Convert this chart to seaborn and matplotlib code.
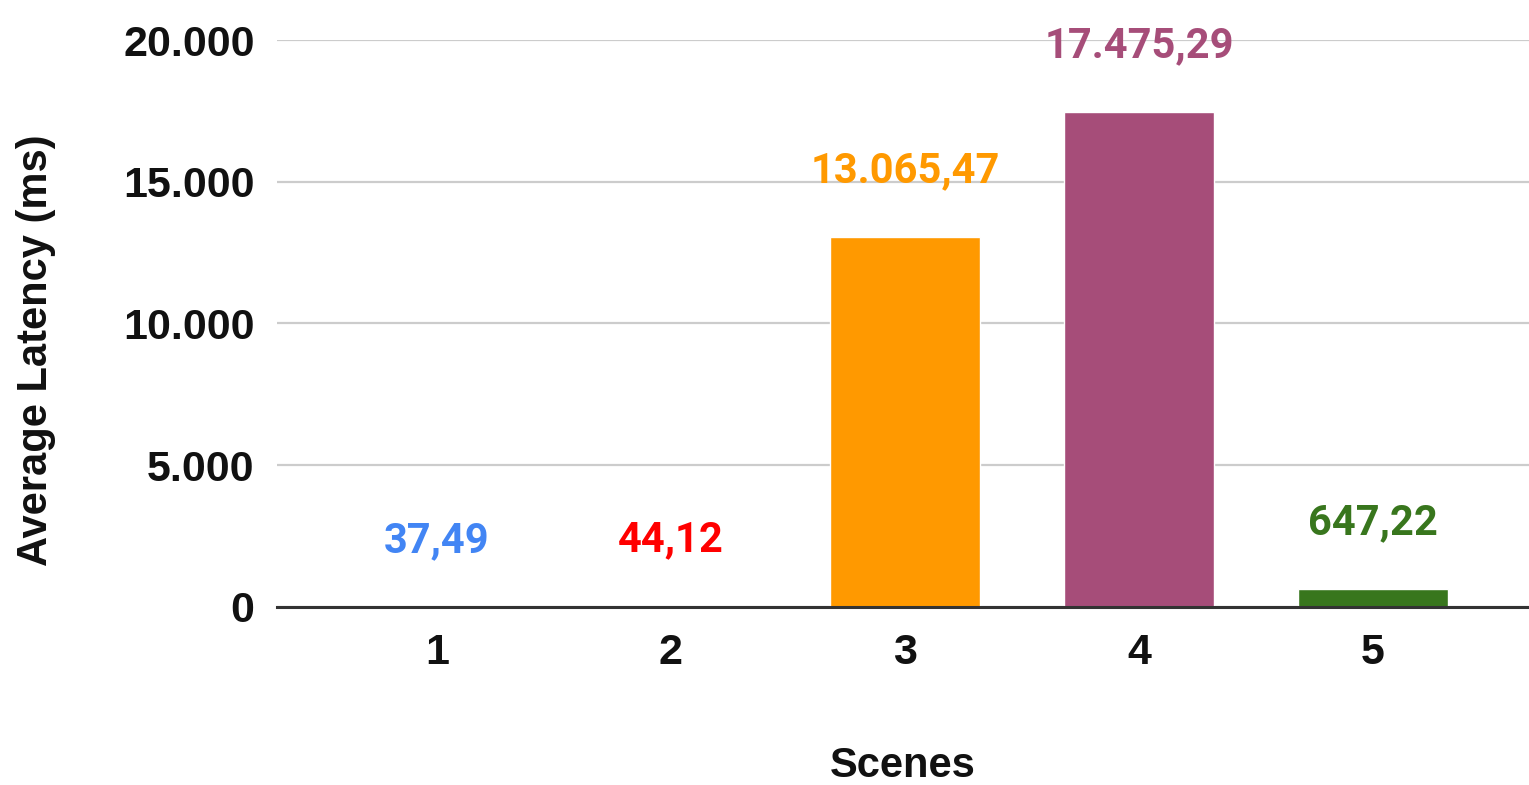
import matplotlib
matplotlib.use("Agg")
import matplotlib.pyplot as plt
import seaborn as sns
import pandas as pd

# Average latency per scene
scenes = ["1", "2", "3", "4", "5"]
latency_ms = [37.49, 44.12, 13065.47, 17475.29, 647.22]
bar_colors = ["#4285F4", "#FF0000", "#FF9900", "#A64D79", "#38761D"]
y_ticks = [0, 5000, 10000, 15000, 20000]


def euro_fmt(v, decimals=2):
    s = f"{v:,.{decimals}f}"
    return s.replace(",", "X").replace(".", ",").replace("X", ".")


df = pd.DataFrame({"Scene": scenes, "Latency": latency_ms})

sns.set_theme(style="white")
plt.rcParams["font.family"] = ["Liberation Sans", "DejaVu Sans"]

fig = plt.figure(figsize=(15.29, 7.85), dpi=100)
ax = fig.add_axes([0.181, 0.2268, 0.819, 0.7222])

sns.barplot(data=df, x="Scene", y="Latency", hue="Scene", order=scenes,
            palette=dict(zip(scenes, bar_colors)), legend=False,
            width=0.64, saturation=1, ax=ax, zorder=3)

for patch, val, col in zip(ax.patches, latency_ms, bar_colors):
    cx = patch.get_x() + patch.get_width() / 2
    ax.annotate(euro_fmt(val), (cx, val), xytext=(0, 39),
                textcoords="offset points", ha="center", va="baseline",
                color=col, fontsize=30, fontweight="bold",
                family=["Roboto", "DejaVu Sans"], zorder=5,
                annotation_clip=False)

ax.set_ylim(0, 20000)
ax.set_xlim(-0.684, 4.667)
ax.set_yticks(y_ticks)
ax.set_yticklabels([euro_fmt(t, 0) for t in y_ticks])

ax.grid(axis="y", color="#cccccc", linewidth=1.6, zorder=0)
ax.grid(axis="x", visible=False)
for side in ["top", "right", "left"]:
    ax.spines[side].set_visible(False)
ax.spines["bottom"].set_color("#333333")
ax.spines["bottom"].set_linewidth(2.2)
ax.spines["bottom"].set_zorder(4)

ax.tick_params(axis="y", length=0, pad=16, labelsize=31)
ax.tick_params(axis="x", length=0, pad=19, labelsize=31)
for lbl in ax.get_xticklabels() + ax.get_yticklabels():
    lbl.set_fontweight("bold")
    lbl.set_color("#111111")

ax.set_xlabel("Scenes", fontsize=30, fontweight="bold", color="#111111")
ax.xaxis.set_label_coords(0.5, -0.245)
ax.set_ylabel("Average Latency (ms)", fontsize=30, fontweight="bold",
              color="#111111")
ax.yaxis.set_label_coords(-0.176, 0.453)

fig.savefig("out.png", dpi=100, facecolor="white")
